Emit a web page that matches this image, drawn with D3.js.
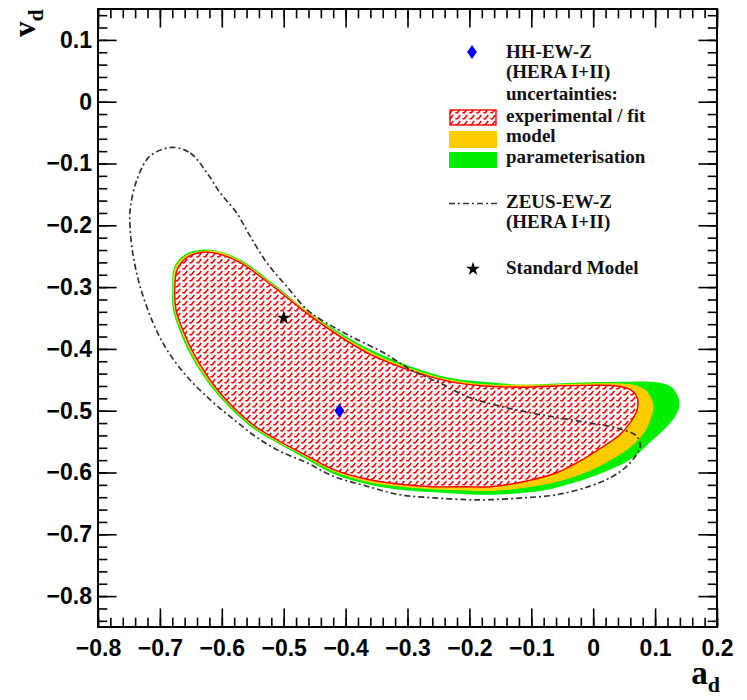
<!DOCTYPE html>
<html>
<head>
<meta charset="utf-8">
<script src="https://cdn.jsdelivr.net/npm/d3@7/dist/d3.min.js"></script>
<style>
  body { margin: 0; background: #fff; }
  svg text { font-family: "Liberation Serif", "Times New Roman", serif; }
  .tick text { font-family: "Liberation Sans", Arial, sans-serif; font-weight: bold; }
</style>
</head>
<body>
<svg id="chart" width="747" height="700"></svg>
<script>
// ---- axis ticks ----
const xTicks = [-0.8, -0.7, -0.6, -0.5, -0.4, -0.3, -0.2, -0.1, 0, 0.1, 0.2];
const xTickLabels = ["\u22120.8", "\u22120.7", "\u22120.6", "\u22120.5", "\u22120.4", "\u22120.3", "\u22120.2", "\u22120.1", "0", "0.1", "0.2"];
const yTicks = [-0.8, -0.7, -0.6, -0.5, -0.4, -0.3, -0.2, -0.1, 0, 0.1];
const yTickLabels = ["\u22120.8", "\u22120.7", "\u22120.6", "\u22120.5", "\u22120.4", "\u22120.3", "\u22120.2", "\u22120.1", "0", "0.1"];

// ---- 68% CL contours in the (a_d, v_d) plane ----
const zeusContour = [
  [-0.680, -0.074], [-0.651, -0.083], [-0.624, -0.115], [-0.603, -0.147], [-0.576, -0.180],
  [-0.554, -0.218], [-0.527, -0.261], [-0.495, -0.299], [-0.463, -0.336], [-0.441, -0.352],
  [-0.393, -0.379], [-0.339, -0.406], [-0.296, -0.433], [-0.248, -0.455], [-0.204, -0.477],
  [-0.161, -0.490], [-0.113, -0.501], [-0.059, -0.511], [-0.005, -0.520], [0.038, -0.528],
  [0.070, -0.541], [0.076, -0.557], [0.070, -0.571], [0.054, -0.590], [0.032, -0.606],
  [-0.005, -0.622], [-0.059, -0.636], [-0.113, -0.641], [-0.167, -0.644], [-0.204, -0.644],
  [-0.258, -0.641], [-0.312, -0.636], [-0.366, -0.622], [-0.420, -0.606], [-0.463, -0.584],
  [-0.501, -0.568], [-0.538, -0.547], [-0.581, -0.514], [-0.619, -0.482], [-0.657, -0.444],
  [-0.689, -0.401], [-0.711, -0.358], [-0.732, -0.299], [-0.743, -0.250], [-0.748, -0.207],
  [-0.748, -0.174], [-0.737, -0.126], [-0.716, -0.088]
];

const paramContour = [
  [-0.680, -0.304], [-0.677, -0.268], [-0.659, -0.247], [-0.635, -0.240], [-0.609, -0.241],
  [-0.569, -0.256], [-0.516, -0.295], [-0.461, -0.339], [-0.407, -0.375], [-0.354, -0.404],
  [-0.296, -0.428], [-0.231, -0.447], [-0.167, -0.454], [-0.113, -0.458], [-0.058, -0.456],
  [-0.005, -0.454], [0.048, -0.453], [0.103, -0.454], [0.127, -0.462], [0.139, -0.484],
  [0.135, -0.505], [0.119, -0.526], [0.092, -0.551], [0.060, -0.579], [0.016, -0.600],
  [-0.033, -0.617], [-0.086, -0.630], [-0.167, -0.636], [-0.204, -0.635], [-0.259, -0.632],
  [-0.312, -0.628], [-0.365, -0.619], [-0.420, -0.602], [-0.466, -0.577], [-0.511, -0.552],
  [-0.554, -0.525], [-0.606, -0.475], [-0.645, -0.420], [-0.668, -0.371], [-0.679, -0.336]
];

const modelContour = [
  [-0.679, -0.304], [-0.676, -0.270], [-0.658, -0.249], [-0.635, -0.242], [-0.609, -0.242],
  [-0.569, -0.258], [-0.516, -0.297], [-0.461, -0.340], [-0.407, -0.378], [-0.354, -0.408],
  [-0.299, -0.430], [-0.231, -0.450], [-0.175, -0.457], [-0.113, -0.458], [-0.058, -0.457],
  [-0.005, -0.456], [0.043, -0.456], [0.069, -0.459], [0.087, -0.469], [0.097, -0.490],
  [0.093, -0.514], [0.080, -0.539], [0.060, -0.559], [0.030, -0.579], [-0.005, -0.597],
  [-0.058, -0.615], [-0.113, -0.625], [-0.167, -0.630], [-0.204, -0.629], [-0.259, -0.627],
  [-0.312, -0.623], [-0.365, -0.615], [-0.420, -0.598], [-0.466, -0.574], [-0.511, -0.550],
  [-0.554, -0.522], [-0.605, -0.473], [-0.643, -0.419], [-0.666, -0.370], [-0.677, -0.336]
];

const expContour = [
  [-0.676, -0.304], [-0.672, -0.272], [-0.656, -0.252], [-0.635, -0.244], [-0.611, -0.245],
  [-0.571, -0.260], [-0.517, -0.299], [-0.462, -0.343], [-0.409, -0.380], [-0.356, -0.411],
  [-0.301, -0.433], [-0.231, -0.453], [-0.175, -0.460], [-0.113, -0.462], [-0.058, -0.460],
  [-0.005, -0.459], [0.038, -0.460], [0.060, -0.466], [0.071, -0.479], [0.071, -0.498],
  [0.060, -0.519], [0.043, -0.539], [0.016, -0.558], [-0.017, -0.579], [-0.058, -0.600],
  [-0.113, -0.615], [-0.167, -0.623], [-0.204, -0.623], [-0.259, -0.623], [-0.312, -0.619],
  [-0.365, -0.611], [-0.420, -0.595], [-0.466, -0.571], [-0.511, -0.547], [-0.554, -0.519],
  [-0.603, -0.471], [-0.640, -0.417], [-0.663, -0.369], [-0.674, -0.336]
];

// best-fit point and Standard Model expectation
const hhPoint = [-0.41, -0.50];
const smPoint = [-0.50, -0.35];

// legend texts
const legendTexts = ["HH-EW-Z", "(HERA I+II)", "uncertainties:", "experimental / fit", "model",
                     "parameterisation", "ZEUS-EW-Z", "(HERA I+II)", "Standard Model"];

const colors = { exp: "#ff0000", model: "#ffcc00", param: "#00ee00", hh: "#0000ff" };
const dashDot = "6,3,2,3";

const svg = d3.select("#chart");
const frameL = 98, frameR = 717, frameT = 9, frameB = 627;

const x = d3.scaleLinear().domain([-0.8, 0.2]).range([frameL, frameR]);
const y = d3.scaleLinear().domain([-0.85, 0.15]).range([frameB, frameT]);

// hatch pattern for the experimental band
const defs = svg.append("defs");
const pat = defs.append("pattern")
  .attr("id", "hatch").attr("patternUnits", "userSpaceOnUse")
  .attr("width", 7).attr("height", 6);
pat.append("rect").attr("width", 7).attr("height", 6).attr("fill", "#fff");
pat.append("path").attr("d", "M0.3,4.8 L2.4,4.8 L5.3,1.1")
  .attr("fill", "none").attr("stroke", colors.exp).attr("stroke-width", 1.6);

defs.append("clipPath").attr("id", "frame")
  .append("rect").attr("x", frameL).attr("y", frameT)
  .attr("width", frameR - frameL).attr("height", frameB - frameT);

const line = d3.line().x(d => x(d[0])).y(d => y(d[1])).curve(d3.curveCatmullRomClosed.alpha(0.5));

const plot = svg.append("g").attr("clip-path", "url(#frame)");

plot.append("path").attr("d", line(paramContour)).attr("fill", colors.param);
plot.append("path").attr("d", line(modelContour)).attr("fill", colors.model);
plot.append("path").attr("d", line(expContour)).attr("fill", "url(#hatch)")
  .attr("stroke", colors.exp).attr("stroke-width", 1.4);
plot.append("path").attr("d", line(zeusContour)).attr("fill", "none")
  .attr("stroke", "#333").attr("stroke-width", 1.7)
  .attr("stroke-dasharray", dashDot);

// markers
const diamond = d3.symbol().type(d3.symbolDiamond).size(58);
const star = d3.symbol().type(d3.symbolStar).size(60);

plot.append("path").attr("d", diamond())
  .attr("transform", `translate(${x(hhPoint[0])},${y(hhPoint[1])}) scale(1.2,1)`)
  .attr("fill", colors.hh);
plot.append("path").attr("d", star())
  .attr("transform", `translate(${x(smPoint[0])},${y(smPoint[1])})`)
  .attr("fill", "#000");

// ---- axes: major/minor ticks on all four sides, pointing inward ----
const major = 18.6, minor = 9.3;
function styleAxis(g) {
  g.select(".domain").remove();
  g.selectAll(".tick line").attr("stroke", "#000").attr("stroke-width", 1.6);
}

svg.append("g").attr("transform", `translate(0,${frameB})`)
  .call(d3.axisBottom(x).tickValues(x.ticks(50)).tickSize(-minor).tickFormat(""))
  .call(styleAxis);
svg.append("g").attr("transform", `translate(0,${frameB})`)
  .call(d3.axisBottom(x).tickValues(xTicks).tickSize(-major).tickPadding(12)
        .tickFormat((d, i) => xTickLabels[i]))
  .call(styleAxis)
  .call(g => g.selectAll(".tick text").attr("font-size", 23).attr("fill", "#000").attr("dy", "0.72em"));

svg.append("g").attr("transform", `translate(0,${frameT})`)
  .call(d3.axisTop(x).tickValues(x.ticks(50)).tickSize(-minor).tickFormat(""))
  .call(styleAxis);
svg.append("g").attr("transform", `translate(0,${frameT})`)
  .call(d3.axisTop(x).tickValues(xTicks).tickSize(-major).tickFormat(""))
  .call(styleAxis);

svg.append("g").attr("transform", `translate(${frameL},0)`)
  .call(d3.axisLeft(y).tickValues(y.ticks(50)).tickSize(-minor).tickFormat(""))
  .call(styleAxis);
svg.append("g").attr("transform", `translate(${frameL},0)`)
  .call(d3.axisLeft(y).tickValues(yTicks).tickSize(-major).tickPadding(6)
        .tickFormat((d, i) => yTickLabels[i]))
  .call(styleAxis)
  .call(g => g.selectAll(".tick text").attr("font-size", 23).attr("fill", "#000"));

svg.append("g").attr("transform", `translate(${frameR},0)`)
  .call(d3.axisRight(y).tickValues(y.ticks(50)).tickSize(-minor).tickFormat(""))
  .call(styleAxis);
svg.append("g").attr("transform", `translate(${frameR},0)`)
  .call(d3.axisRight(y).tickValues(yTicks).tickSize(-major).tickFormat(""))
  .call(styleAxis);

svg.append("rect").attr("x", frameL).attr("y", frameT)
  .attr("width", frameR - frameL).attr("height", frameB - frameT)
  .attr("fill", "none").attr("stroke", "#000").attr("stroke-width", 2);

// axis titles
const xt = svg.append("text").attr("x", 720).attr("y", 684).attr("text-anchor", "end")
  .attr("font-size", 33).attr("font-weight", "bold");
xt.append("tspan").text("a");
xt.append("tspan").attr("dy", 8).attr("font-size", 22).text("d");

const yt = svg.append("text").attr("transform", "translate(35,37) rotate(-90)")
  .attr("font-size", 31).attr("font-weight", "bold");
yt.append("tspan").text("v");
yt.append("tspan").attr("dy", 8).attr("font-size", 22).text("d");

// ---- legend ----
const lg = svg.append("g").attr("font-size", 19).attr("font-weight", "bold").attr("fill", "#111");
const lx = 506;
const baselines = [58, 78, 100, 121.5, 141.5, 163, 208, 228, 274];
legendTexts.forEach((t, i) => {
  lg.append("text").attr("x", lx).attr("y", baselines[i]).text(t);
});

lg.append("path").attr("d", diamond())
  .attr("transform", "translate(472,52) scale(1.2,1)").attr("fill", colors.hh);
lg.append("rect").attr("x", 450).attr("y", 110).attr("width", 46).attr("height", 15)
  .attr("fill", "url(#hatch)").attr("stroke", colors.exp).attr("stroke-width", 1.4);
lg.append("rect").attr("x", 449).attr("y", 131).attr("width", 48).attr("height", 17)
  .attr("fill", colors.model);
lg.append("rect").attr("x", 449).attr("y", 152).attr("width", 48).attr("height", 16)
  .attr("fill", colors.param);
lg.append("line").attr("x1", 449).attr("x2", 497).attr("y1", 203.5).attr("y2", 203.5)
  .attr("stroke", "#333").attr("stroke-width", 1.7).attr("stroke-dasharray", dashDot);
lg.append("path").attr("d", star()).attr("transform", "translate(473,269)").attr("fill", "#000");
</script>
</body>
</html>
